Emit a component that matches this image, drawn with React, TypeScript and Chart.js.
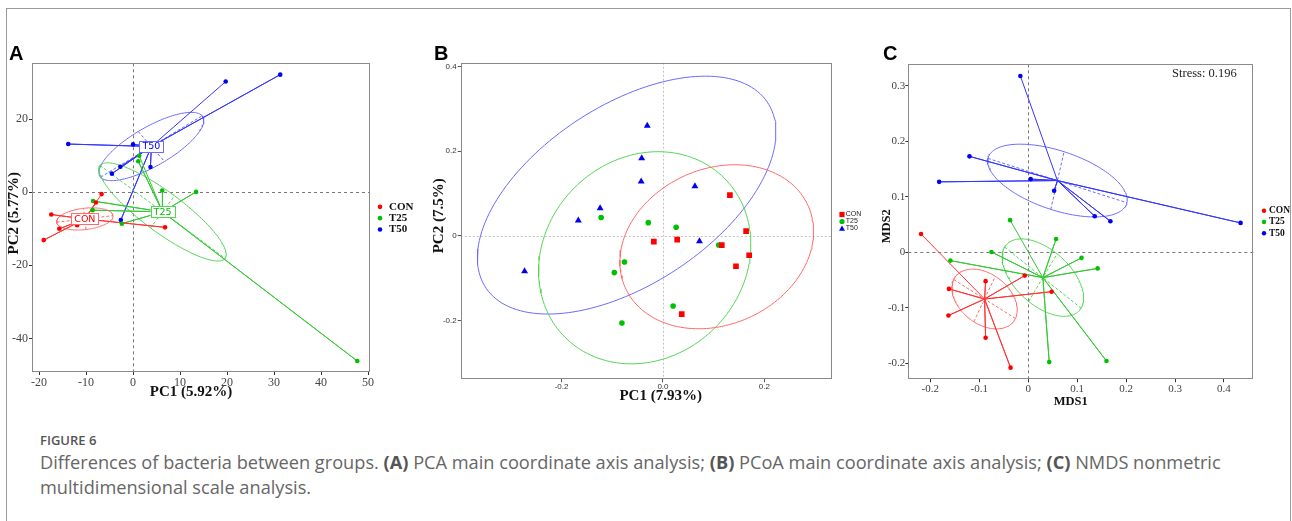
import React, { useEffect, useRef } from 'react';
import { Chart, registerables } from 'chart.js';

Chart.register(...registerables);

type P = { x: number; y: number };

const GROUPS = ['CON', 'T25', 'T50'];
const POINT_COLORS = ['#FF0000', '#00C000', '#0000F0'];
const LINE_COLORS = ['#FF3535', '#35C835', '#3535FF'];
const ELLIPSE_COLORS = ['#FF6A6A', '#55D555', '#6A6AFF'];

// ---------- Panel A (PCA) ----------
const A_CON_X = [-6.7, -7.9, -17.4, -11.9, -15.7, -19.0, 6.8];
const A_CON_Y = [-0.5, -2.8, -6.1, -9.0, -10.0, -13.1, -9.6];
const A_T25_X = [1.3, 1.1, 6.2, 13.4, -8.5, -8.6, -2.4, 47.7];
const A_T25_Y = [10.0, 8.5, 0.5, 0.1, -2.4, -4.9, -8.6, -46.2];
const A_T50_X = [19.7, 31.3, -13.8, 0.0, -2.7, 3.7, -4.5, -2.6];
const A_T50_Y = [30.3, 32.2, 13.2, 13.1, 7.0, 6.9, 5.1, -7.6];
// ellipse conjugate semi-axes [v1x, v1y, v2x, v2y] around each group centroid
const A_ELL_CON = [6.0, 0.9, -0.26, 2.9];
const A_ELL_T25 = [13.3, -12.7, 2.55, 4.4];
const A_ELL_T50 = [10.8, 8.4, 2.8, -4.1];
const A_X_RANGE = [-21.5, 50.4];
const A_Y_RANGE = [-49.2, 35.3];
const A_X_TICKS = [-20, -10, 0, 10, 20, 30, 40, 50];
const A_X_LABELS = ['-20', '-10', '0', '10', '20', '30', '40', '50'];
const A_Y_TICKS = [-40, -20, 0, 20];
const A_Y_LABELS = ['-40', '-20', '0', '20'];
const A_X_TITLE = 'PC1 (5.92%)';
const A_Y_TITLE = 'PC2 (5.77%)';

// ---------- Panel B (PCoA) ----------
const B_CON_X = [0.132, 0.164, 0.170, 0.144, 0.116, -0.018, 0.028, 0.037];
const B_CON_Y = [0.096, 0.011, -0.046, -0.072, -0.022, -0.014, -0.009, -0.185];
const B_T25_X = [-0.122, -0.029, 0.026, -0.076, -0.096, 0.110, 0.020, -0.081];
const B_T25_Y = [0.043, 0.031, 0.020, -0.062, -0.087, -0.022, -0.166, -0.206];
const B_T50_X = [-0.031, -0.042, -0.043, 0.063, -0.124, -0.167, 0.072, -0.273];
const B_T50_Y = [0.260, 0.183, 0.128, 0.117, 0.065, 0.036, -0.013, -0.084];
// ellipse [cx, cy, v1x, v1y, v2x, v2y]
const B_ELL_CON = [0.106, -0.026, 0.190, 0.016, 0.020, 0.193];
const B_ELL_T25 = [-0.036, -0.052, 0.209, 0.016, 0.013, 0.250];
const B_ELL_T50 = [-0.0716, 0.096, 0.284, 0.206, -0.078, 0.191];
const B_X_RANGE = [-0.399, 0.334];
const B_Y_RANGE = [-0.339, 0.4087];
const B_X_TICKS = [-0.2, 0, 0.2];
const B_X_LABELS = ['-0.2', '0.0', '0.2'];
const B_Y_TICKS = [-0.2, 0, 0.2, 0.4];
const B_Y_LABELS = ['-0.2', '0', '0.2', '0.4'];
const B_X_TITLE = 'PC1 (7.93%)';
const B_Y_TITLE = 'PC2 (7.5%)';

// ---------- Panel C (NMDS) ----------
const C_CON_X = [-0.219, -0.007, -0.087, -0.162, 0.048, -0.163, -0.087, -0.036];
const C_CON_Y = [0.033, -0.042, -0.052, -0.066, -0.071, -0.114, -0.154, -0.208];
const C_T25_X = [-0.037, 0.057, -0.075, 0.109, -0.159, 0.142, 0.043, 0.160];
const C_T25_Y = [0.058, 0.024, 0.0006, -0.010, -0.015, -0.029, -0.198, -0.196];
const C_T50_X = [-0.016, -0.120, -0.182, 0.005, 0.053, 0.136, 0.168, 0.434];
const C_T50_Y = [0.318, 0.173, 0.127, 0.132, 0.111, 0.065, 0.056, 0.053];
const C_ELL_CON = [0.063, -0.035, 0.022, 0.041];
const C_ELL_T25 = [0.078, -0.055, 0.029, 0.043];
const C_ELL_T50 = [0.142, -0.040, 0.0136, 0.052];
const C_X_RANGE = [-0.245, 0.46];
const C_Y_RANGE = [-0.229, 0.339];
const C_X_TICKS = [-0.2, -0.1, 0, 0.1, 0.2, 0.3, 0.4];
const C_X_LABELS = ['-0.2', '-0.1', '0', '0.1', '0.2', '0.3', '0.4'];
const C_Y_TICKS = [-0.2, -0.1, 0, 0.1, 0.2, 0.3];
const C_Y_LABELS = ['-0.2', '-0.1', '0', '0.1', '0.2', '0.3'];
const C_X_TITLE = 'MDS1';
const C_Y_TITLE = 'MDS2';
const C_STRESS = 'Stress: 0.196';

// ---------- helpers ----------
const pts = (xs: number[], ys: number[]): P[] => xs.map((x, i) => ({ x, y: ys[i] }));
const centroid = (ps: P[]): P => ({
  x: ps.reduce((s, p) => s + p.x, 0) / ps.length,
  y: ps.reduce((s, p) => s + p.y, 0) / ps.length,
});
const starData = (ps: P[], c: P): P[] => ps.flatMap((p) => [p, c]);
const ellipseData = (c: P, v: number[], n = 160): P[] => {
  const out: P[] = [];
  for (let i = 0; i <= n; i++) {
    const t = (2 * Math.PI * i) / n;
    out.push({
      x: c.x + Math.cos(t) * v[0] + Math.sin(t) * v[2],
      y: c.y + Math.cos(t) * v[1] + Math.sin(t) * v[3],
    });
  }
  return out;
};
const axisData = (c: P, vx: number, vy: number): P[] => [
  { x: c.x - vx, y: c.y - vy },
  { x: c.x + vx, y: c.y + vy },
];

const lineDs = (data: P[], color: string, dash: number[] = [], width = 1) => ({
  type: 'scatter' as const,
  data,
  showLine: true,
  borderColor: color,
  borderWidth: width,
  borderDash: dash,
  pointRadius: 0,
  fill: false,
  tension: 0,
  order: 5,
});
const pointDs = (label: string, data: P[], color: string, style: string, r: number) => ({
  type: 'scatter' as const,
  label,
  data,
  showLine: false,
  pointStyle: style,
  pointRadius: r,
  pointBackgroundColor: color,
  pointBorderColor: color,
  pointBorderWidth: 0,
  order: 0,
});

const scaleOpts = (o: {
  axis: 'x' | 'y';
  range: number[];
  ticks: number[];
  labels: string[];
  font: any;
  color: string;
  tickColor: string;
  size: number;
  pad: number;
}) => ({
  type: 'linear' as const,
  position: o.axis === 'x' ? ('bottom' as const) : ('left' as const),
  min: o.range[0],
  max: o.range[1],
  afterBuildTicks: (s: any) => {
    s.ticks = o.ticks.map((v) => ({ value: v }));
  },
  afterFit: (s: any) => {
    if (o.axis === 'x') s.height = o.size;
    else s.width = o.size;
  },
  ticks: {
    font: o.font,
    color: o.color,
    padding: o.pad,
    autoSkip: false,
    maxRotation: 0,
    callback: (_v: any, i: number) => o.labels[i],
  },
  grid: {
    display: true,
    drawOnChartArea: false,
    drawTicks: true,
    tickLength: 3,
    color: o.tickColor,
    lineWidth: 1,
  },
  border: { display: false },
  title: { display: false },
});

function drawCross(chart: any, color: string, dash: number[], width: number) {
  const { ctx, chartArea: a, scales } = chart;
  const px = Math.round(scales.x.getPixelForValue(0)) + 0.5;
  const py = Math.round(scales.y.getPixelForValue(0)) + 0.5;
  ctx.save();
  ctx.strokeStyle = color;
  ctx.lineWidth = width;
  ctx.setLineDash(dash);
  ctx.beginPath();
  ctx.moveTo(px, a.top);
  ctx.lineTo(px, a.bottom);
  ctx.moveTo(a.left, py);
  ctx.lineTo(a.right, py);
  ctx.stroke();
  ctx.restore();
}

function drawFrame(chart: any, color: string) {
  const { ctx, chartArea: a } = chart;
  ctx.save();
  ctx.strokeStyle = color;
  ctx.lineWidth = 1;
  const l = Math.round(a.left) + 0.5;
  const t = Math.round(a.top) + 0.5;
  const r = Math.round(a.right) - 0.5;
  const b = Math.round(a.bottom) - 0.5;
  ctx.strokeRect(l, t, r - l, b - t);
  ctx.restore();
}

function drawText(
  ctx: CanvasRenderingContext2D,
  text: string,
  x: number,
  y: number,
  font: string,
  color: string,
  rot = 0,
  align: CanvasTextAlign = 'center',
  baseline: CanvasTextBaseline = 'middle'
) {
  ctx.save();
  ctx.translate(x, y);
  if (rot) ctx.rotate(rot);
  ctx.font = font;
  ctx.fillStyle = color;
  ctx.textAlign = align;
  ctx.textBaseline = baseline;
  ctx.fillText(text, 0, 0);
  ctx.restore();
}

function drawMarker(ctx: CanvasRenderingContext2D, kind: string, x: number, y: number, r: number, color: string) {
  ctx.save();
  ctx.fillStyle = color;
  ctx.beginPath();
  if (kind === 'rect') {
    ctx.rect(x - r, y - r, 2 * r, 2 * r);
  } else if (kind === 'triangle') {
    ctx.moveTo(x, y - r * 1.15);
    ctx.lineTo(x + r * 1.15, y + r * 0.85);
    ctx.lineTo(x - r * 1.15, y + r * 0.85);
    ctx.closePath();
  } else {
    ctx.arc(x, y, r, 0, Math.PI * 2);
  }
  ctx.fill();
  ctx.restore();
}

function drawLegend(
  chart: any,
  o: { dx: number; tdx: number; gap: number; dy: number; font: string; color: string; kinds: string[]; r: number }
) {
  const { ctx, chartArea: a } = chart;
  const cy = (a.top + a.bottom) / 2 + o.dy;
  GROUPS.forEach((g, i) => {
    const y = cy + (i - 1) * o.gap;
    drawMarker(ctx, o.kinds[i], a.right + o.dx, y, o.r, POINT_COLORS[i]);
    drawText(ctx, g, a.right + o.tdx, y, o.font, o.color, 0, 'left', 'middle');
  });
}

// ---------- configs ----------
function configA(): any {
  const groups = [pts(A_CON_X, A_CON_Y), pts(A_T25_X, A_T25_Y), pts(A_T50_X, A_T50_Y)];
  const ells = [A_ELL_CON, A_ELL_T25, A_ELL_T50];
  const cents = groups.map(centroid);
  const datasets: any[] = [];
  groups.forEach((g, i) => datasets.push(pointDs(GROUPS[i], g, POINT_COLORS[i], 'circle', 2.3)));
  groups.forEach((g, i) => {
    const c = cents[i];
    const v = ells[i];
    datasets.push(lineDs(starData(g, c), LINE_COLORS[i]));
    datasets.push(lineDs(ellipseData(c, v), ELLIPSE_COLORS[i]));
    datasets.push(lineDs(axisData(c, v[0], v[1]), ELLIPSE_COLORS[i], [3, 2]));
    datasets.push(lineDs(axisData(c, v[2], v[3]), ELLIPSE_COLORS[i], [3, 2]));
  });
  const serif = 'Liberation Serif';
  return {
    type: 'scatter',
    data: { datasets },
    options: {
      responsive: false,
      animation: false,
      events: [],
      layout: { padding: { top: 13.3, right: 50, bottom: 0, left: 0 } },
      plugins: { legend: { display: false }, tooltip: { enabled: false } },
      scales: {
        x: scaleOpts({ axis: 'x', range: A_X_RANGE, ticks: A_X_TICKS, labels: A_X_LABELS, font: { family: serif, size: 12 }, color: '#444', tickColor: '#333', size: 38, pad: 1 }),
        y: scaleOpts({ axis: 'y', range: A_Y_RANGE, ticks: A_Y_TICKS, labels: A_Y_LABELS, font: { family: serif, size: 12 }, color: '#444', tickColor: '#333', size: 32, pad: 1 }),
      },
    },
    plugins: [
      {
        id: 'decorA',
        beforeDatasetsDraw: (chart: any) => drawCross(chart, '#555', [3, 3], 0.8),
        afterDatasetsDraw: (chart: any) => {
          const { ctx, chartArea: a, scales } = chart;
          cents.forEach((c, i) => {
            const x = scales.x.getPixelForValue(c.x);
            const y = scales.y.getPixelForValue(c.y);
            ctx.save();
            ctx.font = '9.5px "DejaVu Sans"';
            const w = ctx.measureText(GROUPS[i]).width + 6;
            const h = 11;
            ctx.fillStyle = '#fff';
            ctx.fillRect(x - w / 2, y - h / 2, w, h);
            ctx.strokeStyle = ELLIPSE_COLORS[i];
            ctx.lineWidth = 1;
            ctx.strokeRect(Math.round(x - w / 2) + 0.5, Math.round(y - h / 2) + 0.5, Math.round(w), h);
            ctx.restore();
            drawText(ctx, GROUPS[i], x, y + 0.5, '9.5px "DejaVu Sans"', POINT_COLORS[i]);
          });
          drawFrame(chart, '#8a8a8a');
          const mid = (a.top + a.bottom) / 2;
          drawText(ctx, A_X_TITLE, a.left + 159, a.bottom + 20.5, `bold 15px "${serif}"`, '#111');
          drawText(ctx, A_Y_TITLE, a.left - 17.5, mid - 4.5, `bold 15px "${serif}"`, '#111', -Math.PI / 2);
          drawLegend(chart, { dx: 10, tdx: 19, gap: 11.3, dy: 0.5, font: `bold 11px "${serif}"`, color: '#111', kinds: ['circle', 'circle', 'circle'], r: 2.3 });
        },
      },
    ],
  };
}

function configB(): any {
  const groups = [pts(B_CON_X, B_CON_Y), pts(B_T25_X, B_T25_Y), pts(B_T50_X, B_T50_Y)];
  const ells = [B_ELL_CON, B_ELL_T25, B_ELL_T50];
  const styles = ['rect', 'circle', 'triangle'];
  const radii = [4.0, 2.8, 4.0];
  const datasets: any[] = [];
  groups.forEach((g, i) => datasets.push(pointDs(GROUPS[i], g, POINT_COLORS[i], styles[i], radii[i])));
  ells.forEach((e, i) => {
    datasets.push(lineDs(ellipseData({ x: e[0], y: e[1] }, e.slice(2)), ELLIPSE_COLORS[i]));
  });
  const sans = 'Liberation Sans';
  const serif = 'Liberation Serif';
  return {
    type: 'scatter',
    data: { datasets },
    options: {
      responsive: false,
      animation: false,
      events: [],
      layout: { padding: { top: 12.7, right: 37.7, bottom: 0, left: 0 } },
      plugins: { legend: { display: false }, tooltip: { enabled: false } },
      scales: {
        x: scaleOpts({ axis: 'x', range: B_X_RANGE, ticks: B_X_TICKS, labels: B_X_LABELS, font: { family: sans, size: 8 }, color: '#333', tickColor: '#555', size: 30.7, pad: 0 }),
        y: scaleOpts({ axis: 'y', range: B_Y_RANGE, ticks: B_Y_TICKS, labels: B_Y_LABELS, font: { family: sans, size: 8 }, color: '#333', tickColor: '#555', size: 40.7, pad: 1 }),
      },
    },
    plugins: [
      {
        id: 'decorB',
        beforeDatasetsDraw: (chart: any) => drawCross(chart, '#c4c4c4', [2, 2], 1),
        afterDatasetsDraw: (chart: any) => {
          const { ctx, chartArea: a } = chart;
          drawFrame(chart, '#888');
          const mid = (a.top + a.bottom) / 2;
          drawText(ctx, B_X_TITLE, a.left + 200, a.bottom + 16.7, `bold 15px "${serif}"`, '#111');
          drawText(ctx, B_Y_TITLE, a.left - 21.3, mid - 5.2, `bold 15px "${serif}"`, '#111', -Math.PI / 2);
          drawLegend(chart, { dx: 9.7, tdx: 13.5, gap: 7, dy: 0.5, font: `7px "${sans}"`, color: '#222', kinds: ['rect', 'circle', 'triangle'], r: 2.6 });
        },
      },
    ],
  };
}

function configC(): any {
  const groups = [pts(C_CON_X, C_CON_Y), pts(C_T25_X, C_T25_Y), pts(C_T50_X, C_T50_Y)];
  const ells = [C_ELL_CON, C_ELL_T25, C_ELL_T50];
  const cents = groups.map(centroid);
  const datasets: any[] = [];
  groups.forEach((g, i) => datasets.push(pointDs(GROUPS[i], g, POINT_COLORS[i], 'circle', 2.3)));
  groups.forEach((g, i) => {
    const c = cents[i];
    const v = ells[i];
    datasets.push(lineDs(starData(g, c), LINE_COLORS[i]));
    datasets.push(lineDs(ellipseData(c, v), ELLIPSE_COLORS[i]));
    datasets.push(lineDs(axisData(c, v[0], v[1]), ELLIPSE_COLORS[i], [3, 2]));
    datasets.push(lineDs(axisData(c, v[2], v[3]), ELLIPSE_COLORS[i], [3, 2]));
  });
  const serif = 'Liberation Serif';
  return {
    type: 'scatter',
    data: { datasets },
    options: {
      responsive: false,
      animation: false,
      events: [],
      layout: { padding: { top: 14.3, right: 38.7, bottom: 0, left: 0 } },
      plugins: { legend: { display: false }, tooltip: { enabled: false } },
      scales: {
        x: scaleOpts({ axis: 'x', range: C_X_RANGE, ticks: C_X_TICKS, labels: C_X_LABELS, font: { family: serif, size: 11 }, color: '#444', tickColor: '#333', size: 30.7, pad: 0.5 }),
        y: scaleOpts({ axis: 'y', range: C_Y_RANGE, ticks: C_Y_TICKS, labels: C_Y_LABELS, font: { family: serif, size: 11 }, color: '#444', tickColor: '#333', size: 38.3, pad: 0 }),
      },
    },
    plugins: [
      {
        id: 'decorC',
        beforeDatasetsDraw: (chart: any) => drawCross(chart, '#555', [3, 3], 0.8),
        afterDatasetsDraw: (chart: any) => {
          const { ctx, chartArea: a } = chart;
          drawFrame(chart, '#8a8a8a');
          const mid = (a.top + a.bottom) / 2;
          drawText(ctx, C_X_TITLE, a.left + 162.4, a.bottom + 22.4, `bold 12.5px "${serif}"`, '#111');
          drawText(ctx, C_Y_TITLE, a.left - 21.6, mid + 4.5, `bold 12.5px "${serif}"`, '#111', -Math.PI / 2);
          drawText(ctx, C_STRESS, a.right - 16.6, a.top + 12.4, `12.5px "${serif}"`, '#222', 0, 'right', 'alphabetic');
          drawLegend(chart, { dx: 10.7, tdx: 15.7, gap: 11.3, dy: 0.2, font: `bold 9.5px "${serif}"`, color: '#111', kinds: ['circle', 'circle', 'circle'], r: 2.2 });
        },
      },
    ],
  };
}

const letterStyle: React.CSSProperties = {
  position: 'absolute',
  fontFamily: '"Liberation Sans", Arial, sans-serif',
  fontWeight: 700,
  fontSize: 20,
  lineHeight: '20px',
  color: '#000',
};

export default function App() {
  const refA = useRef<HTMLCanvasElement>(null);
  const refB = useRef<HTMLCanvasElement>(null);
  const refC = useRef<HTMLCanvasElement>(null);

  useEffect(() => {
    const charts = [
      new Chart(refA.current as HTMLCanvasElement, configA()),
      new Chart(refB.current as HTMLCanvasElement, configB()),
      new Chart(refC.current as HTMLCanvasElement, configC()),
    ];
    return () => charts.forEach((c) => c.destroy());
  }, []);

  const bold: React.CSSProperties = { fontWeight: 700, color: '#555' };

  return (
    <div style={{ position: 'absolute', left: 0, top: 0, width: 1292, height: 521, background: '#fff', overflow: 'hidden' }}>
      <div
        style={{
          position: 'absolute',
          left: 6,
          top: 8,
          width: 1283,
          height: 530,
          borderTop: '1px solid #9a9a9a',
          borderLeft: '1px solid #9a9a9a',
          borderRight: '1px solid #9a9a9a',
        }}
      />
      <canvas ref={refA} width={420} height={360} style={{ position: 'absolute', left: 0, top: 50, display: 'block' }} />
      <canvas ref={refB} width={450} height={360} style={{ position: 'absolute', left: 420, top: 50, display: 'block' }} />
      <canvas ref={refC} width={422} height={360} style={{ position: 'absolute', left: 870, top: 50, display: 'block' }} />
      <div style={{ ...letterStyle, left: 9, top: 42.5 }}>A</div>
      <div style={{ ...letterStyle, left: 434, top: 42.5 }}>B</div>
      <div style={{ ...letterStyle, left: 883, top: 43 }}>C</div>
      <div
        style={{
          position: 'absolute',
          left: 40,
          top: 432,
          width: 1240,
          fontFamily: '"Open Sans", sans-serif',
          color: '#666',
        }}
      >
        <div style={{ fontSize: 13, fontWeight: 600, color: '#555', lineHeight: '16px' }}>FIGURE 6</div>
        <div style={{ fontSize: 18.2, lineHeight: '25px', marginTop: 2 }}>
          Differences of bacteria between groups. <span style={bold}>(A)</span> PCA main coordinate axis analysis;{' '}
          <span style={bold}>(B)</span> PCoA main coordinate axis analysis; <span style={bold}>(C)</span> NMDS nonmetric
          multidimensional scale analysis.
        </div>
      </div>
    </div>
  );
}
